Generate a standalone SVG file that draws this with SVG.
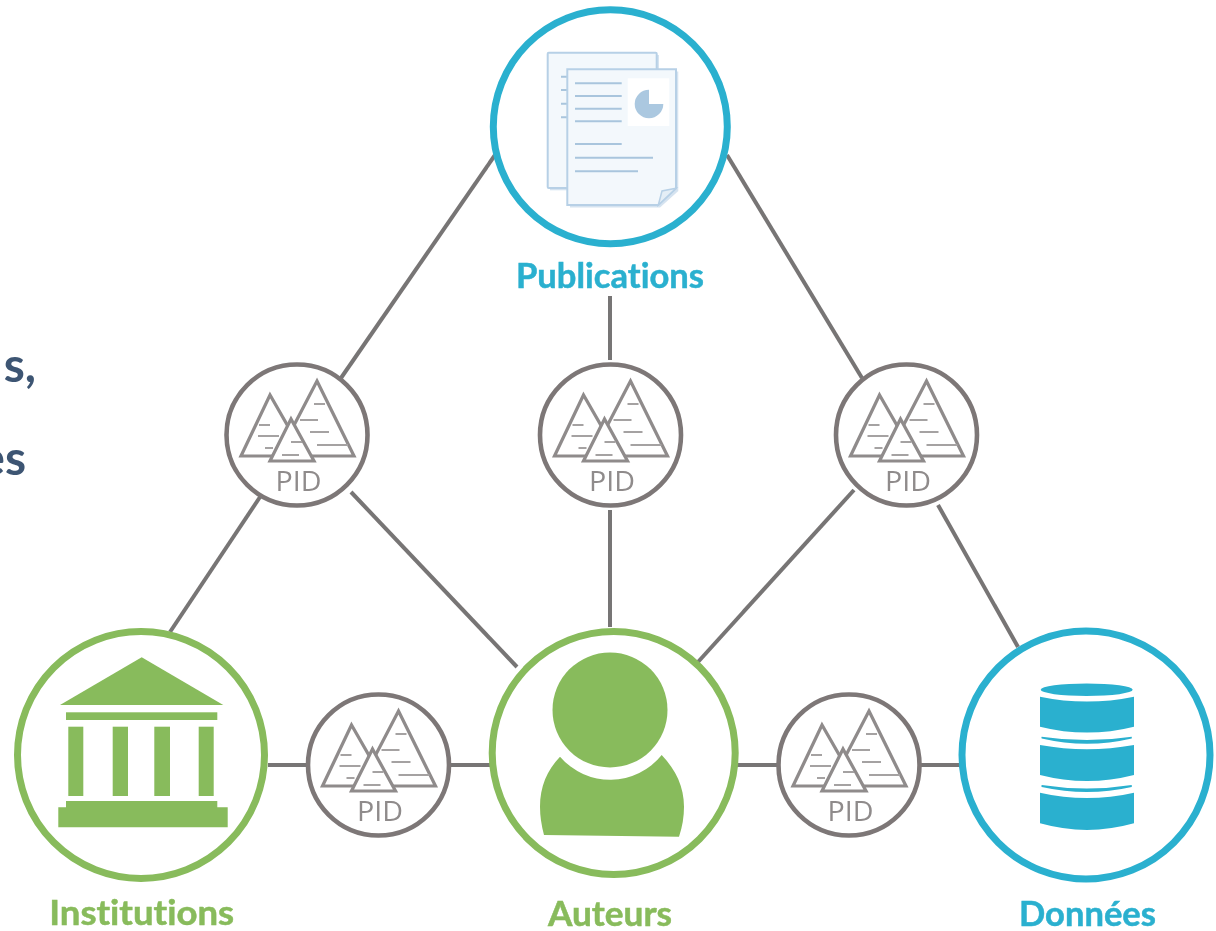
<svg xmlns="http://www.w3.org/2000/svg" width="1216" height="931" viewBox="0 0 1216 931">
<style>
.conn{stroke:#777474;stroke-width:4;fill:none}
.ring{fill:#fff;stroke-width:7}
.blue{stroke:#2bb0cf}
.green{stroke:#88bb5b}
.fg{fill:#88bb5b}
.fb{fill:#2bb0cf}
.lab{font-family:"Lato","Liberation Sans",sans-serif;font-weight:700;font-size:34px;text-anchor:middle;font-variant-ligatures:none;stroke-width:.5}
.tg{fill:#88bb5b;stroke:#88bb5b}
.tb{fill:#2bb0cf;stroke:#2bb0cf}
.side{font-family:"Lato","Liberation Sans",sans-serif;font-weight:700;font-size:48px;fill:#3d5573;text-anchor:end}
.pidr{fill:#fff;stroke:#7d7777;stroke-width:4.6}
.tri{fill:#fff;stroke:#8f8b8b;stroke-width:3.2;stroke-linejoin:miter}
.dash{stroke:#a5a2a2;stroke-width:1.8;fill:none}
.pidt{font-family:"Open Sans","Liberation Sans",sans-serif;font-size:27px;font-weight:400;fill:#8f8b8b;text-anchor:middle}
.page{fill:#f3f8fc;stroke:#b7d0e6;stroke-width:2}
.shadow{fill:#d5e3f0}
.ln{stroke:#a9c5dd;stroke-width:2;fill:none}
</style>
<defs>
<filter id="soft" x="0" y="0" width="1216" height="931" filterUnits="userSpaceOnUse"><feGaussianBlur stdDeviation="0.7"/></filter>
<g id="pid-icon">
<circle class="pidr" cx="0" cy="0" r="70.500"/>
<path class="tri" d="M20-54L57 21H-19Z"/>
<path class="tri" d="M-27-40L-56 21H8Z" fill-opacity="0"/>
<path class="dash" d="M17-31H28M3-15H21M13-3H32M20 10H51"/>
<path class="dash" d="M-38-10H-27M-39 1H-18M-32 13H-24"/>
<path class="tri" d="M-6-16L-27 26H17Z"/>
<path class="dash" d="M-6 7H5M-15 20H2"/>
</g>
</defs>
<g filter="url(#soft)">
<text class="side" x="36" y="382">s,</text>
<text class="side" x="26" y="475">es</text>
<g id="connectors">
<path class="conn" d="M495 155L341 378"/>
<path class="conn" d="M727 155L862 378"/>
<path class="conn" d="M610 296V360"/>
<path class="conn" d="M260 497L170 632"/>
<path class="conn" d="M351 492L517 667"/>
<path class="conn" d="M610 510V627"/>
<path class="conn" d="M854 490L698 662"/>
<path class="conn" d="M938 505L1018 647"/>
<path class="conn" d="M268 765H306"/>
<path class="conn" d="M451 765H490"/>
<path class="conn" d="M737 765H778"/>
<path class="conn" d="M920 765H960"/>
</g>
<g id="publications">
<circle class="ring blue" cx="610.300" cy="126.700" r="117"/>
<rect class="shadow" x="550" y="55" width="109" height="135.300"/>
<rect class="page" x="547.700" y="52.700" width="109" height="135.300" rx="1"/>
<path class="ln" d="M561 76.700h6M561 90h6M561 103.700h6M561 117.300h6"/>
<path class="shadow" d="M570 71.600H678.300V191L660 207.500H570Z"/>
<path class="page" d="M567.300 69.300H676V188.300L658.300 205H567.300Z"/>
<path d="M658.300 205L662 191L676 188.300Z" fill="#e4eef6" stroke="#b7d0e6" stroke-width="1.500"/>
<rect x="627.700" y="78.300" width="41.600" height="47.700" fill="#fff"/>
<path d="M649 89.700A14.300 14.300 0 1 0 663.300 104H649Z" fill="#abc8e0"/>
<path class="ln" d="M575 83.300H621.700M575 96H621.700M575 108.700H621.700M575 121.300H621.700M575 144H621.700M575 157.700H653M575 171.300H638"/>
<text class="lab tb" x="610" y="288" textLength="188" lengthAdjust="spacingAndGlyphs">Publications</text>
</g>
<g id="pid-1"><use href="#pid-icon" x="297" y="435"/><text class="pidt" x="298.500" y="491" textLength="46" lengthAdjust="spacingAndGlyphs">PID</text></g>
<g id="pid-2"><use href="#pid-icon" x="610.500" y="435"/><text class="pidt" x="612" y="491" textLength="46" lengthAdjust="spacingAndGlyphs">PID</text></g>
<g id="pid-3"><use href="#pid-icon" x="906.500" y="435"/><text class="pidt" x="908" y="491" textLength="46" lengthAdjust="spacingAndGlyphs">PID</text></g>
<g id="pid-4"><use href="#pid-icon" x="378.500" y="765"/><text class="pidt" x="380" y="821" textLength="46" lengthAdjust="spacingAndGlyphs">PID</text></g>
<g id="pid-5"><use href="#pid-icon" x="849" y="765"/><text class="pidt" x="850.500" y="821" textLength="46" lengthAdjust="spacingAndGlyphs">PID</text></g>
<g id="institutions">
<circle class="ring green" cx="141" cy="755" r="123.500"/>
<path class="fg" d="M141.700 657.300L223.300 705H60Z"/>
<rect class="fg" x="66" y="712.300" width="151.300" height="7.700"/>
<rect class="fg" x="68.300" y="726.700" width="15" height="69.300"/>
<rect class="fg" x="112.700" y="726.700" width="15.300" height="69.300"/>
<rect class="fg" x="154.300" y="726.700" width="15.700" height="69.300"/>
<rect class="fg" x="198.700" y="726.700" width="15" height="69.300"/>
<path class="fg" d="M66 801H217.300V807.300H227.700V827.300H58.300V807.300H66Z"/>
<text class="lab tg" x="141.700" y="925" textLength="185" lengthAdjust="spacingAndGlyphs">Institutions</text>
</g>
<g id="auteurs">
<circle class="ring green" cx="613.700" cy="753" r="121.500"/>
<circle class="fg" cx="610" cy="710" r="57.500"/>
<path class="fg" d="M560 756.700A66 66 0 0 0 661.700 755C676 770 684 787 684 806.700Q684 822 679 836.700L544 835Q540 820 540 806.700C540 787 547 770 560 756.700Z"/>
<text class="lab tg" x="610" y="926" textLength="124" lengthAdjust="spacingAndGlyphs">Auteurs</text>
</g>
<g id="donnees">
<circle class="ring blue" cx="1086" cy="755" r="124"/>
<ellipse class="fb" cx="1086.700" cy="689.700" rx="46" ry="6.300"/>
<path class="fb" d="M1040 696.700Q1087 706.500 1134 696.700V726.700Q1087 738.500 1040 726.700Z"/>
<path class="fb" d="M1041.700 736.700Q1087 743.500 1131.700 736.700Q1132 738 1131.700 738.500Q1087 749 1041.700 738.500Q1041 738 1041.700 736.700Z"/>
<path class="fb" d="M1040 745Q1087 753.500 1134 745V775Q1087 787 1040 775Z"/>
<path class="fb" d="M1041.700 785Q1087 792 1131.700 785Q1132 786.500 1131.700 787Q1087 797 1041.700 787Q1041 786.500 1041.700 785Z"/>
<path class="fb" d="M1040 792.700Q1087 803.500 1134 792.700V823.300Q1087 836.500 1040 823.300Z"/>
<text class="lab tb" x="1087.500" y="926" textLength="137" lengthAdjust="spacingAndGlyphs">Données</text>
</g>
</g>
</svg>
